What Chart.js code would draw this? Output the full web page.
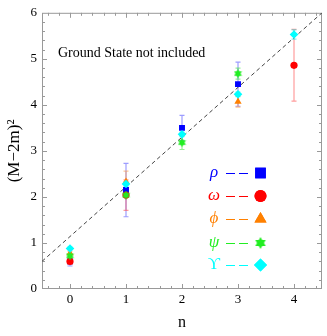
<!DOCTYPE html>
<html>
<head>
<meta charset="utf-8">
<script src="https://cdn.jsdelivr.net/npm/chart.js@4.4.0/dist/chart.umd.min.js"></script>
<style>
  html, body { margin: 0; padding: 0; background: #fff; }
  #c { display: block; }
</style>
</head>
<body>
<canvas id="c" width="327" height="336"></canvas>
<script>
// radial quantum number n
var nValues = [0, 1, 2, 3, 4];

// (M-2m)^2 values per meson family, null = not measured
var rho     = [0.60, 2.15, 3.50, 4.45, null];
var omega   = [0.60, 2.04, null, null, 4.86];
var phi     = [0.78, 2.33, null, 4.07, null];
var psi     = [0.72, 2.04, 3.18, 4.68, null];
var upsilon = [0.88, 2.28, 3.36, 4.23, 5.53];

// symmetric error bars
var rhoErr     = [0.10, 0.58, 0.27, 0.48, null];
var omegaErr   = [0.05, 0.33, null, null, 0.78];
var phiErr     = [0.04, 0.23, null, 0.12, null];
var psiErr     = [0.03, 0.05, 0.15, 0.12, null];
var upsilonErr = [0.03, 0.05, 0.05, 0.05, 0.10];

// dashed fit line end points
var fitX = [-0.5, 4.5];
var fitY = [0.60, 6.00];

var xTicks = [0, 1, 2, 3, 4];
var yTicks = [0, 1, 2, 3, 4, 5, 6];

var serif = '"Liberation Serif", "DejaVu Serif", serif';

// filled six point star for psi
function hexagram(size, color) {
  var cv = document.createElement('canvas');
  cv.width = size; cv.height = size;
  var g = cv.getContext('2d');
  var c = size / 2, r = size / 2;
  g.fillStyle = color;
  for (var k = 0; k < 2; k++) {
    g.beginPath();
    for (var i = 0; i < 3; i++) {
      var a = -Math.PI / 2 + k * Math.PI + i * 2 * Math.PI / 3;
      var px = c + r * Math.cos(a), py = c + r * Math.sin(a);
      if (i === 0) g.moveTo(px, py); else g.lineTo(px, py);
    }
    g.closePath();
    g.fill();
  }
  return cv;
}

function pts(vals, errs) {
  var out = [];
  for (var i = 0; i < nValues.length; i++) {
    if (vals[i] !== null) out.push({x: nValues[i], y: vals[i], e: errs[i]});
  }
  return out;
}

var series = [
  {sym: 'ρ', italic: true,  color: '#0000ff', bar: 'rgba(60,60,255,0.5)',  style: 'rect',     r: 4.2, lr: 7.5, data: pts(rho, rhoErr)},
  {sym: 'ω', italic: true,  color: '#ff0000', bar: 'rgba(255,60,60,0.5)',  style: 'circle',   r: 3.6, lr: 6,   data: pts(omega, omegaErr)},
  {sym: 'ϕ', italic: true,  color: '#ff8000', bar: 'rgba(255,140,40,0.5)', style: 'triangle', r: 4.2, lr: 7,   data: pts(phi, phiErr)},
  {sym: 'ψ', italic: true,  color: '#22ee22', bar: 'rgba(40,230,40,0.5)',  style: hexagram(9, '#22ee22'), r: 4.5, lr: 0, legendImg: hexagram(12, '#22ee22'), data: pts(psi, psiErr)},
  {sym: 'ϒ', italic: false, color: '#00ffff', bar: 'rgba(0,230,230,0.5)',  style: 'rectRot',  r: 4.3, lr: 6.5, data: pts(upsilon, upsilonErr)}
];

var datasets = [{
  type: 'line',
  data: [{x: fitX[0], y: fitY[0]}, {x: fitX[1], y: fitY[1]}],
  borderColor: '#444',
  borderWidth: 1,
  borderDash: [4, 3],
  pointRadius: 0,
  order: 10
}];
series.forEach(function (s, i) {
  datasets.push({
    type: 'scatter',
    data: s.data,
    backgroundColor: s.color,
    borderColor: s.color,
    borderWidth: 0,
    pointStyle: s.style,
    pointRadius: s.r,
    order: 5 - i
  });
});

var frame = {
  id: 'frame',
  beforeDatasetsDraw: function (chart) {
    var ctx = chart.ctx, a = chart.chartArea;
    var xs = chart.scales.x, ys = chart.scales.y;
    ctx.save();
    // error bars
    series.forEach(function (s) {
      ctx.strokeStyle = s.bar;
      ctx.lineWidth = 1.2;
      s.data.forEach(function (p) {
        if (!p.e) return;
        var x = xs.getPixelForValue(p.x);
        var y1 = ys.getPixelForValue(p.y - p.e), y2 = ys.getPixelForValue(p.y + p.e);
        ctx.beginPath();
        ctx.moveTo(x, y1); ctx.lineTo(x, y2);
        ctx.moveTo(x - 2.5, y1); ctx.lineTo(x + 2.5, y1);
        ctx.moveTo(x - 2.5, y2); ctx.lineTo(x + 2.5, y2);
        ctx.stroke();
      });
    });
    // frame and inside ticks
    ctx.strokeStyle = '#999';
    ctx.lineWidth = 1;
    ctx.strokeRect(a.left + 0.5, a.top + 0.5, a.right - a.left - 1, a.bottom - a.top - 1);
    ctx.beginPath();
    for (var v = -0.4; v < 4.5; v += 0.2) {
      var vv = Math.round(v * 10) / 10;
      var x = Math.round(xs.getPixelForValue(vv)) + 0.5;
      var len = Math.abs(vv - Math.round(vv)) < 1e-6 ? 5 : 3;
      ctx.moveTo(x, a.bottom); ctx.lineTo(x, a.bottom - len);
      ctx.moveTo(x, a.top); ctx.lineTo(x, a.top + len);
    }
    for (var w = 0.2; w < 6; w += 0.2) {
      var ww = Math.round(w * 10) / 10;
      var y = Math.round(ys.getPixelForValue(ww)) + 0.5;
      var l2 = Math.abs(ww - Math.round(ww)) < 1e-6 ? 5 : 3;
      ctx.moveTo(a.left, y); ctx.lineTo(a.left + l2, y);
      ctx.moveTo(a.right, y); ctx.lineTo(a.right - l2, y);
    }
    ctx.stroke();
    ctx.restore();
  },
  afterDraw: function (chart) {
    var ctx = chart.ctx;
    ctx.save();
    ctx.fillStyle = '#000';
    ctx.font = '14px ' + serif;
    ctx.textBaseline = 'middle';
    ctx.fillText('Ground State not included', 58, 53);
    // legend
    var ly = [173, 196, 219, 243, 265];
    series.forEach(function (s, i) {
      var y = ly[i];
      ctx.fillStyle = s.color;
      ctx.strokeStyle = s.color;
      ctx.font = (s.italic ? 'italic ' : '') + '17px ' + serif;
      ctx.textAlign = 'center';
      ctx.fillText(s.sym, 214, y);
      ctx.lineWidth = 1.2;
      ctx.beginPath();
      ctx.moveTo(226, y + 0.5); ctx.lineTo(235, y + 0.5);
      ctx.moveTo(239, y + 0.5); ctx.lineTo(248, y + 0.5);
      ctx.stroke();
      if (s.legendImg) {
        ctx.drawImage(s.legendImg, 254.5, y - 6);
      } else {
        Chart.helpers.drawPoint(ctx, {pointStyle: s.style, radius: s.lr, borderWidth: 0}, 260.5, y);
        ctx.fill();
      }
    });
    ctx.restore();
  }
};

new Chart(document.getElementById('c'), {
  type: 'scatter',
  data: {datasets: datasets},
  plugins: [frame],
  options: {
    responsive: false,
    animation: false,
    devicePixelRatio: 1,
    layout: {padding: {top: 8, right: 5, left: 0, bottom: 0}},
    plugins: {legend: {display: false}, tooltip: {enabled: false}},
    scales: {
      x: {
        type: 'linear', min: -0.5, max: 4.5,
        afterBuildTicks: function (s) { s.ticks = xTicks.map(function (v) { return {value: v}; }); },
        afterFit: function (s) { s.height = 47; },
        grid: {display: false, drawTicks: false},
        border: {display: false},
        ticks: {color: '#000', font: {family: serif, size: 13}, padding: 3},
        title: {display: true, text: 'n', color: '#000', font: {family: serif, size: 16}, padding: {top: 4}}
      },
      y: {
        type: 'linear', min: 0, max: 6,
        afterBuildTicks: function (s) { s.ticks = yTicks.map(function (v) { return {value: v}; }); },
        afterFit: function (s) { s.width = 42; },
        grid: {display: false, drawTicks: false},
        border: {display: false},
        ticks: {color: '#000', font: {family: serif, size: 13}, padding: 5},
        title: {display: true, text: '(M\u22122m)\u00b2', color: '#000', font: {family: serif, size: 17}, padding: {bottom: 2}}
      }
    }
  }
});
</script>
</body>
</html>
